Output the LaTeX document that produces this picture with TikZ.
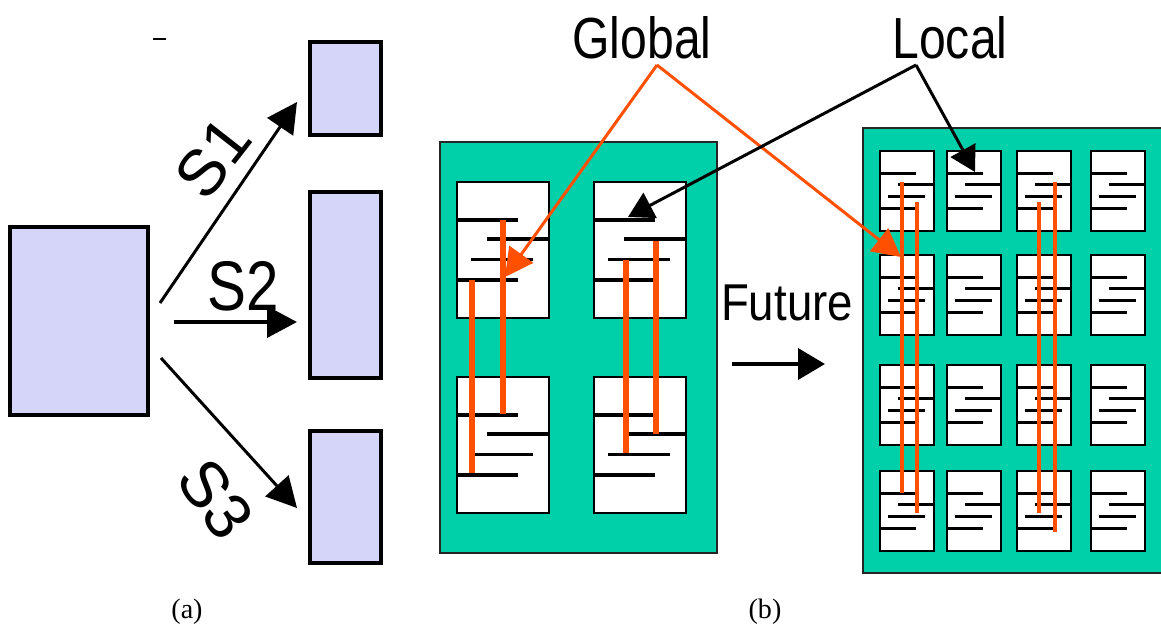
\documentclass[tikz,border=0pt]{standalone}
\usepackage{fontspec}
\setmainfont{Liberation Serif}
\newfontfamily\arialish{Liberation Sans}
\usetikzlibrary{arrows.meta,calc}

\definecolor{lavender}{RGB}{213,213,250}
\definecolor{chipgreen}{RGB}{0,208,170}
\definecolor{wireorange}{RGB}{255,80,0}

\tikzset{
  unitbox/.style={draw=black, line width=2.2pt, fill=lavender, inner sep=0pt, outer sep=0pt, anchor=north west},
  chip/.style={draw=black!85, line width=1.2pt, fill=chipgreen, inner sep=0pt, outer sep=0pt, anchor=north west},
  cellbox/.style={draw=black, line width=1.3pt, fill=white, inner sep=0pt, outer sep=0pt, anchor=north west},
  bar/.style={line width=2pt},
  wire/.style={wireorange, line width=#1},
  wire/.default=3.2pt,
  splitarrow/.style={line width=1.7pt, -{Triangle[length=6mm,width=6.2mm]}},
  gline/.style={wireorange, line width=1.7pt, -{Triangle[length=5.6mm,width=5.8mm]}},
  lline/.style={black, line width=1.7pt, -{Triangle[length=5mm,width=5.6mm]}},
  lbl/.style={font=\arialish\fontsize{33}{36}\selectfont, xscale=0.83, inner sep=0pt},
  flbl/.style={font=\arialish\fontsize{29.5}{32}\selectfont, xscale=0.88, inner sep=0pt},
  slbl/.style={font=\arialish\fontsize{40}{44}\selectfont, xscale=0.83, inner sep=0pt},
  rlbl/.style={font=\arialish\fontsize{37}{40}\selectfont, inner sep=0pt},
  caplbl/.style={font=\fontsize{16}{18}\selectfont, inner sep=0pt}
}

% one memory cell: name, x, y (top left), width, height
\newcommand{\memcell}[5]{%
  \node[cellbox, minimum width=#4*0.02cm, minimum height=#5*0.02cm] (#1) at (#2,#3) {};
  \draw[bar] ($(#1.north west)+(0,0.28*#5)$) -- ++(0.66*#4,0);
  \draw[bar] ($(#1.north west)+(0.33*#4,0.42*#5)$) -- ++(0.67*#4,0);
  \draw[bar] ($(#1.north west)+(0.15*#4,0.57*#5)$) -- ++(0.68*#4,0);
  \draw[bar] ($(#1.north west)+(0,0.72*#5)$) -- ++(0.66*#4,0);
}

\begin{document}
\begin{tikzpicture}[x=0.02cm, y=-0.02cm]
\useasboundingbox (0,0) rectangle (1161,630);
\clip (0,0) rectangle (1161,630);

% (a) one unit split into three
\draw[line width=1.5pt] (153,39) -- (166,39);
\node[unitbox, minimum width=138*0.02cm, minimum height=188*0.02cm] (src) at (10,227) {};
\node[unitbox, minimum width=71*0.02cm, minimum height=93*0.02cm] (dsta) at (310,42) {};
\node[unitbox, minimum width=71*0.02cm, minimum height=186*0.02cm] (dstb) at (310,192) {};
\node[unitbox, minimum width=71*0.02cm, minimum height=132*0.02cm] (dstc) at (310,431) {};

\coordinate (s1from) at (160,303);
\coordinate (s1to) at (297,102);
\coordinate (s2from) at (174,322);
\coordinate (s2to) at (297,322);
\coordinate (s3from) at (161,358);
\coordinate (s3to) at (297,508);
\draw[splitarrow] (s1from) -- (s1to);
\draw[splitarrow, line width=2.2pt] (s2from) -- (s2to);
\draw[splitarrow] (s3from) -- (s3to);
\node[rotate=52, rlbl] (s1) at (213,158) {S1};
\node[slbl, anchor=base] (s2) at (243,310) {S2};
\node[rotate=-55, rlbl] (s3) at (216,499) {S3};

% (b) today: 2x2 cells
\node[chip, minimum width=277*0.02cm, minimum height=411*0.02cm] (chipnow) at (440,142) {};
\foreach \cx [count=\i] in {457,594}
  \foreach \cy [count=\j] in {182,377}
    {\memcell{l\i\j}{\cx}{\cy}{92}{136}}
\draw[wire] (503,220) -- (503,414);
\draw[wire] (472,280) -- (472,473);
\draw[wire] (626,260) -- (626,453);
\draw[wire] (656,241) -- (656,434);

% future: 4x4 cells
\node[chip, minimum width=305*0.02cm, minimum height=445*0.02cm] (chipfut) at (863,128) {};
\foreach \cx [count=\i] in {880,947,1017,1091}
  \foreach \cy [count=\j] in {151,255,365,471}
    {\memcell{r\i\j}{\cx}{\cy}{54}{80}}
\draw[wire=2.8pt] (902,182) -- (902,493);
\draw[wire=2.8pt] (917,202) -- (917,513);
\draw[wire=2.8pt] (1039,202) -- (1039,513);
\draw[wire=2.8pt] (1055,182) -- (1055,532);

\node[flbl, anchor=base] (future) at (787,320) {Future};
\coordinate (futfrom) at (732,364);
\coordinate (futto) at (825,364);
\draw[line width=2.2pt, -{Triangle[length=5.4mm,width=6.2mm]}] (futfrom) -- (futto);

% labels and pointers
\node[lbl, anchor=base] (global) at (642,58) {Global};
\node[lbl, anchor=base] (local) at (950,58) {Local};
\coordinate (gfoot) at (657,65);
\coordinate (lfoot) at (916,65);
\coordinate (gtipl) at (505,277);
\coordinate (gtipr) at (901,257);
\coordinate (ltipl) at (628,217);
\coordinate (ltipr) at (975,172);
\draw[gline] (gfoot) -- (gtipl);
\draw[gline] (gfoot) -- (gtipr);
\draw[lline] (lfoot) -- (ltipl);
\draw[lline] (lfoot) -- (ltipr);

\node[caplbl] (capa) at (187,612) {(a)};
\node[caplbl] (capb) at (765,612) {(b)};
\end{tikzpicture}
\end{document}
